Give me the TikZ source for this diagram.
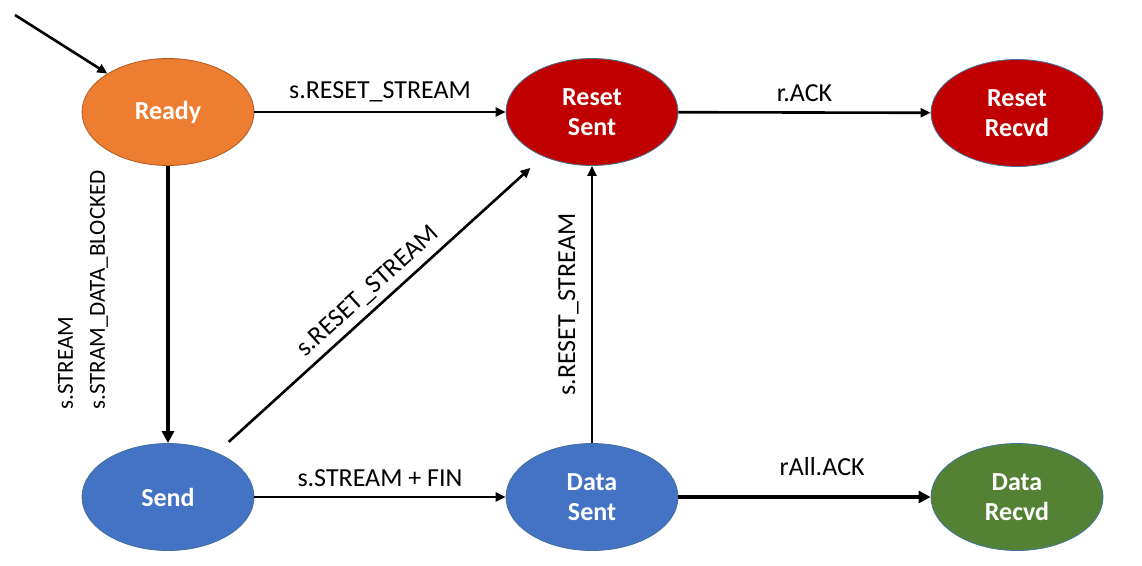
\documentclass[tikz,border=0pt]{standalone}
\usepackage{fontspec}
\setmainfont{Carlito}
\usetikzlibrary{arrows.meta, shapes.geometric}
\definecolor{readyorange}{HTML}{ED7D31}
\definecolor{readyline}{HTML}{AE5A21}
\definecolor{resetred}{HTML}{C00000}
\definecolor{sendblue}{HTML}{4472C4}
\definecolor{recvdgreen}{HTML}{548235}
\definecolor{stateline}{HTML}{41719C}

\begin{document}
\begin{tikzpicture}
        [x=1pt, y=-1pt,
        state/.style={ellipse, minimum width=172pt, minimum height=107pt, inner sep=0pt,
          draw=stateline, line width=0.8pt, text=white, align=center,
          font=\fontsize{26}{30}\selectfont\bfseries},
        arr/.style={-{Triangle[length=10pt,width=9pt]}, line width=2.6pt},
        thickarr/.style={-{Triangle[length=12pt,width=12pt]}, line width=4.2pt},
        lbl/.style={font=\fontsize{26}{32}\selectfont, inner sep=4pt}]
        \useasboundingbox (0,0) rectangle (1142,565);
        \node (RR) at (1017,113) [state, fill=resetred] {Reset\\Recvd};
        \node (DR) at (1017,497) [state, fill=recvdgreen] {Data\\Recvd};
        \node (RS) at (592,112) [state, fill=resetred] {Reset\\Sent}
          edge[arr] node[lbl, above=5pt] {r.ACK} (RR);
        \node (DS) at (592,497) [state, fill=sendblue] {Data\\Sent}
          edge[arr] node[lbl, above=8pt, sloped] {s.RESET\_STREAM} (RS)
          edge[thickarr] node[lbl, above=15pt, pos=0.57] {rAll.ACK} (DR);
        \node (Send) at (168,497) [state, fill=sendblue] {Send}
          edge[arr] node[lbl, above=5pt] {s.STREAM + FIN} (DS)
          edge[arr, shorten <=16pt, shorten >=17pt]
            node[lbl, above=2pt, sloped] {s.RESET\_STREAM} (RS);
        \node (Ready) at (168,112) [state, fill=readyorange, draw=readyline] {Ready}
          edge[arr] node[lbl, above=5pt] {s.RESET\_STREAM} (RS)
          edge[thickarr] (Send);
        \coordinate (start) at (15,15);
        \path (start) edge[arr] (Ready);
        \node (blocked) at (83,290) [lbl, font=\fontsize{23}{32}\selectfont, rotate=90, align=left]
          {s.STREAM\\s.STRAM\_DATA\_BLOCKED};
\end{tikzpicture}
\end{document}
